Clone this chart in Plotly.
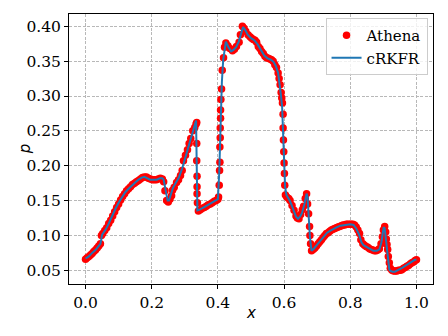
import plotly.graph_objects as go

# Athena reference points
athena_x = [0.000, 0.005, 0.010, 0.015, 0.020, 0.025, 0.030, 0.035, 0.040, 0.045,
            0.048, 0.052, 0.058, 0.064, 0.070, 0.076, 0.082, 0.088, 0.094, 0.100,
            0.106, 0.112, 0.118, 0.124, 0.130, 0.136, 0.142, 0.148, 0.154, 0.160,
            0.166, 0.172, 0.178, 0.184, 0.190, 0.196, 0.202, 0.208, 0.214, 0.220,
            0.226, 0.232, 0.236, 0.240, 0.245, 0.250, 0.255, 0.260, 0.263, 0.268,
            0.275, 0.281, 0.287, 0.292, 0.296, 0.302, 0.308, 0.313, 0.318, 0.324,
            0.330, 0.334, 0.336, 0.336, 0.336, 0.337, 0.337, 0.337, 0.338,
            0.341, 0.347, 0.353, 0.359, 0.365, 0.371, 0.377, 0.383, 0.389, 0.395, 0.400,
            0.402, 0.404, 0.405, 0.406, 0.406, 0.407, 0.407, 0.408, 0.408, 0.409,
            0.411, 0.413, 0.417, 0.420, 0.424, 0.430, 0.436, 0.444, 0.450, 0.456,
            0.464, 0.468, 0.474, 0.479, 0.484, 0.491, 0.497, 0.502, 0.507, 0.512,
            0.517, 0.522, 0.527, 0.532, 0.537, 0.542, 0.547, 0.552, 0.557, 0.562,
            0.567, 0.572, 0.577, 0.582, 0.585, 0.588, 0.591, 0.593, 0.595, 0.597,
            0.597, 0.598, 0.599, 0.600, 0.601, 0.602, 0.604, 0.608, 0.614, 0.618,
            0.624, 0.630, 0.636, 0.640, 0.645, 0.650, 0.655, 0.659, 0.664, 0.668,
            0.671, 0.674, 0.677, 0.678, 0.680, 0.683, 0.688, 0.693, 0.698, 0.703,
            0.708, 0.713, 0.718, 0.723, 0.728, 0.733, 0.738, 0.743, 0.748, 0.753,
            0.758, 0.763, 0.768, 0.773, 0.778, 0.783, 0.788, 0.793, 0.798, 0.803,
            0.808, 0.813, 0.818, 0.823, 0.828, 0.832, 0.838, 0.843, 0.848, 0.853,
            0.858, 0.863, 0.868, 0.873, 0.878, 0.883, 0.888, 0.893, 0.897, 0.900,
            0.904, 0.907, 0.909, 0.911, 0.913, 0.915, 0.918, 0.921, 0.926, 0.931,
            0.936, 0.941, 0.946, 0.951, 0.956, 0.961, 0.966, 0.971, 0.976, 0.981,
            0.986, 0.991, 0.996, 1.000]
athena_y = [0.066, 0.068, 0.070, 0.072, 0.074, 0.077, 0.079, 0.082, 0.085, 0.088,
            0.100, 0.103, 0.107, 0.111, 0.117, 0.122, 0.128, 0.134, 0.140, 0.145,
            0.151, 0.156, 0.160, 0.164, 0.167, 0.170, 0.173, 0.175, 0.177, 0.179,
            0.181, 0.183, 0.184, 0.184, 0.182, 0.181, 0.180, 0.180, 0.180, 0.181,
            0.182, 0.181, 0.177, 0.164, 0.150, 0.148, 0.152, 0.157, 0.165, 0.169,
            0.176, 0.180, 0.186, 0.193, 0.207, 0.215, 0.223, 0.232, 0.239, 0.250,
            0.255, 0.260, 0.262, 0.232, 0.207, 0.185, 0.170, 0.160, 0.147,
            0.135, 0.137, 0.139, 0.140, 0.142, 0.144, 0.145, 0.147, 0.149, 0.150, 0.152,
            0.155, 0.172, 0.193, 0.205, 0.227, 0.240, 0.254, 0.268, 0.280, 0.295,
            0.310, 0.337, 0.355, 0.370, 0.376, 0.372, 0.368, 0.365, 0.367, 0.371,
            0.377, 0.388, 0.400, 0.397, 0.393, 0.388, 0.385, 0.383, 0.381, 0.380,
            0.377, 0.371, 0.368, 0.364, 0.361, 0.357, 0.355, 0.354, 0.353, 0.352,
            0.350, 0.345, 0.341, 0.333, 0.325, 0.316, 0.305, 0.297, 0.290, 0.274,
            0.254, 0.237, 0.220, 0.204, 0.189, 0.172, 0.158, 0.155, 0.153, 0.150,
            0.143, 0.136, 0.128, 0.125, 0.124, 0.130, 0.137, 0.142, 0.153, 0.160,
            0.145, 0.131, 0.113, 0.100, 0.088, 0.078, 0.080, 0.082, 0.085, 0.088,
            0.091, 0.094, 0.097, 0.100, 0.103, 0.104, 0.106, 0.108, 0.109, 0.110,
            0.111, 0.112, 0.113, 0.114, 0.115, 0.115, 0.116, 0.116, 0.116, 0.116,
            0.116, 0.115, 0.112, 0.108, 0.103, 0.094, 0.088, 0.086, 0.084, 0.083,
            0.081, 0.080, 0.079, 0.078, 0.078, 0.079, 0.081, 0.088, 0.098, 0.108,
            0.113, 0.105, 0.095, 0.087, 0.080, 0.070, 0.061, 0.053, 0.050, 0.049,
            0.049, 0.049, 0.050, 0.050, 0.051, 0.053, 0.054, 0.056, 0.057, 0.059,
            0.061, 0.062, 0.064, 0.065]

# cRKFR solution
crkfr_x = [0.000, 0.010, 0.020, 0.030, 0.040, 0.045, 0.050, 0.060, 0.070, 0.080,
           0.090, 0.100, 0.110, 0.120, 0.130, 0.140, 0.150, 0.160, 0.170, 0.178,
           0.186, 0.195, 0.205, 0.215, 0.225, 0.232, 0.236, 0.242, 0.248, 0.252,
           0.258, 0.264, 0.272, 0.282, 0.292, 0.302, 0.312, 0.322, 0.330, 0.334,
           0.338, 0.345, 0.360, 0.375, 0.390, 0.400, 0.404, 0.408, 0.412, 0.416,
           0.420, 0.424, 0.432, 0.440, 0.447, 0.455, 0.463, 0.470, 0.476, 0.482,
           0.490, 0.500, 0.510, 0.520, 0.530, 0.540, 0.550, 0.560, 0.568, 0.575,
           0.582, 0.586, 0.590, 0.594, 0.597, 0.600, 0.603, 0.607, 0.612, 0.618,
           0.624, 0.630, 0.636, 0.642, 0.648, 0.654, 0.658, 0.662, 0.665, 0.668,
           0.671, 0.674, 0.678, 0.683, 0.690, 0.700, 0.710, 0.720, 0.730, 0.740,
           0.750, 0.760, 0.770, 0.780, 0.790, 0.800, 0.810, 0.818, 0.826, 0.834,
           0.840, 0.850, 0.860, 0.870, 0.880, 0.888, 0.894, 0.898, 0.901, 0.904,
           0.907, 0.910, 0.914, 0.918, 0.922, 0.928, 0.935, 0.945, 0.955, 0.965,
           0.975, 0.985, 0.995, 1.000]
crkfr_y = [0.067, 0.070, 0.075, 0.079, 0.085, 0.088, 0.101, 0.108, 0.117, 0.128,
           0.138, 0.147, 0.155, 0.162, 0.167, 0.172, 0.176, 0.180, 0.183, 0.184,
           0.182, 0.180, 0.180, 0.180, 0.182, 0.182, 0.180, 0.166, 0.150, 0.150,
           0.159, 0.168, 0.175, 0.183, 0.196, 0.213, 0.228, 0.245, 0.258, 0.265,
           0.136, 0.137, 0.141, 0.145, 0.149, 0.152, 0.190, 0.260, 0.320, 0.352,
           0.370, 0.378, 0.370, 0.364, 0.366, 0.370, 0.378, 0.390, 0.399, 0.395,
           0.388, 0.383, 0.380, 0.374, 0.366, 0.358, 0.354, 0.352, 0.349, 0.343,
           0.333, 0.320, 0.303, 0.285, 0.250, 0.200, 0.170, 0.158, 0.154, 0.149,
           0.142, 0.134, 0.127, 0.124, 0.127, 0.132, 0.138, 0.146, 0.153, 0.160,
           0.155, 0.130, 0.098, 0.078, 0.081, 0.087, 0.093, 0.099, 0.104, 0.107,
           0.110, 0.112, 0.114, 0.115, 0.116, 0.116, 0.115, 0.110, 0.102, 0.090,
           0.086, 0.083, 0.080, 0.078, 0.078, 0.080, 0.090, 0.104, 0.112, 0.110,
           0.095, 0.080, 0.060, 0.051, 0.049, 0.048, 0.048, 0.050, 0.053, 0.056,
           0.059, 0.062, 0.065, 0.065]

x_ticks = [0.0, 0.2, 0.4, 0.6, 0.8, 1.0]
x_tick_labels = ["0.0", "0.2", "0.4", "0.6", "0.8", "1.0"]
y_ticks = [0.05, 0.10, 0.15, 0.20, 0.25, 0.30, 0.35, 0.40]
y_tick_labels = ["0.05", "0.10", "0.15", "0.20", "0.25", "0.30", "0.35", "0.40"]

fig = go.Figure()
fig.add_trace(go.Scatter(
    x=athena_x, y=athena_y, mode="markers", name="Athena",
    marker=dict(color="#ff0000", size=7.5, line=dict(width=0)),
))
fig.add_trace(go.Scatter(
    x=crkfr_x, y=crkfr_y, mode="lines", name="cRKFR",
    line=dict(color="#1f77b4", width=2),
))

axis_common = dict(
    showline=True, linecolor="black", linewidth=1, mirror=True,
    ticks="outside", ticklen=4, tickcolor="black", tickwidth=1,
    showgrid=True, gridcolor="#b8b8b8", gridwidth=0.8, griddash="3px,1.5px",
    zeroline=False, automargin=False,
    tickfont=dict(family="DejaVu Serif", size=15.5, color="black"),
)

label_font = dict(family="DejaVu Sans", size=15, color="black")

# The page body keeps its default 8px margin, so the figure is sized to fit
fig.update_layout(
    width=440, height=328,
    margin=dict(l=61, r=15, t=6, b=52),
    paper_bgcolor="white", plot_bgcolor="white",
    xaxis=dict(range=[-0.05, 1.05], tickvals=x_ticks, ticktext=x_tick_labels,
               **axis_common),
    yaxis=dict(range=[0.0304, 0.4176], tickvals=y_ticks, ticktext=y_tick_labels,
               **axis_common),
    legend=dict(x=0.985, y=0.985, xanchor="right", yanchor="top",
                bgcolor="rgba(255,255,255,0.8)", bordercolor="#cccccc", borderwidth=1,
                font=dict(family="DejaVu Serif", size=15, color="black"),
                itemwidth=30, tracegroupgap=0),
    showlegend=True,
    annotations=[
        dict(text="<i>x</i>", xref="paper", yref="paper", x=0.5, y=-0.107,
             xanchor="center", yanchor="middle", showarrow=False, font=label_font),
        dict(text="<i>p</i>", xref="paper", yref="paper", x=-0.12, y=0.5,
             xanchor="center", yanchor="middle", showarrow=False, textangle=-90,
             font=label_font),
    ],
)

fig.write_html("out.html")
